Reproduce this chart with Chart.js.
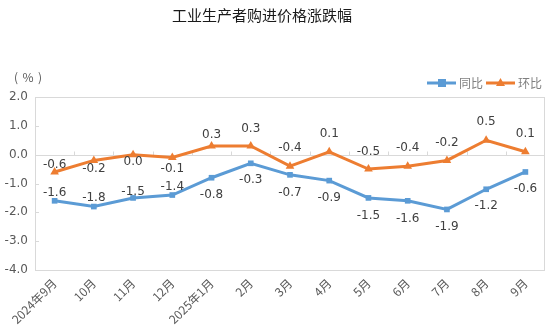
<!DOCTYPE html>
<html><head><meta charset="utf-8">
<script src="https://cdn.jsdelivr.net/npm/chart.js@4"></script>
<style>html,body{margin:0;padding:0;background:#fff}#c{display:block}</style>
</head><body>
<canvas id="c" width="555" height="336"></canvas>
<script>
const months = ['2024年9月','10月','11月','12月','2025年1月','2月','3月','4月','5月','6月','7月','8月','9月'];
const tongbi = [-1.6,-1.8,-1.5,-1.4,-0.8,-0.3,-0.7,-0.9,-1.5,-1.6,-1.9,-1.2,-0.6];
const huanbi = [-0.6,-0.2,0.0,-0.1,0.3,0.3,-0.4,0.1,-0.5,-0.4,-0.2,0.5,0.1];
const seriesNames = ['同比','环比'];

const FONT = "'DejaVu Sans','Noto Sans CJK SC',sans-serif";
const CJK = "'Noto Sans CJK SC','DejaVu Sans',sans-serif";
const BLUE = '#5B9BD5', ORANGE = '#ED7D31';

// label vertical offsets (px from the point), per series
const labelDy = [
  [-8,-9,-6,-8,17,17,18,17,18,18,17,17,17],
  [-7,8,7,11,-11,-17,-18,-18,-17,-18,-18,-18,-18]
];

const decor = {
  id: 'decor',
  beforeDatasetsDraw(chart) {
    const ctx = chart.ctx, a = chart.chartArea, y = chart.scales.y;
    ctx.save();
    ctx.strokeStyle = '#D9D9D9';
    ctx.lineWidth = 1;
    ctx.strokeRect(a.left + 0.5, a.top + 0.5, a.right - a.left - 1, a.bottom - a.top);
    // zero line
    const y0 = Math.round(y.getPixelForValue(0)) + 0.5;
    ctx.beginPath();
    ctx.moveTo(a.left, y0); ctx.lineTo(a.right, y0);
    // y tick marks
    y.ticks.forEach(t => {
      const py = Math.round(y.getPixelForValue(t.value)) + 0.5;
      ctx.moveTo(a.left, py); ctx.lineTo(a.left + 4, py);
    });
    // x tick marks at category borders
    const step = (a.right - a.left) / months.length;
    for (let i = 1; i < months.length; i++) {
      const px = Math.round(a.left + i * step) + 0.5;
      ctx.moveTo(px, y0); ctx.lineTo(px, y0 - 4);
    }
    ctx.stroke();
    ctx.restore();
  },
  afterDraw(chart) {
    const ctx = chart.ctx;
    ctx.save();
    // title
    ctx.fillStyle = '#1a1a1a';
    ctx.font = '15px ' + CJK;
    ctx.textAlign = 'center';
    ctx.textBaseline = 'middle';
    ctx.fillText('工业生产者购进价格涨跌幅', 262, 15);
    // unit
    ctx.fillStyle = '#595959';
    ctx.font = '12px ' + CJK;
    ctx.textAlign = 'center';
    ctx.fillText('(', 16, 77);
    ctx.fillText('%', 28, 77);
    ctx.fillText(')', 40, 77);
    // legend
    const leg = [[427, BLUE, 'rect'], [486, ORANGE, 'triangle']];
    leg.forEach((l, i) => {
      const ly = 83;
      ctx.strokeStyle = l[1];
      ctx.lineWidth = 3;
      ctx.beginPath(); ctx.moveTo(l[0], ly); ctx.lineTo(l[0] + 29, ly); ctx.stroke();
      ctx.fillStyle = l[1];
      if (l[2] === 'rect') ctx.fillRect(l[0] + 11, ly - 4, 8, 8);
      else { ctx.beginPath(); ctx.moveTo(l[0] + 14.5, ly - 5); ctx.lineTo(l[0] + 19, ly + 3); ctx.lineTo(l[0] + 10, ly + 3); ctx.closePath(); ctx.fill(); }
      ctx.fillStyle = '#7f7f7f';
      ctx.font = '12px ' + CJK;
      ctx.textAlign = 'left';
      ctx.fillText(seriesNames[i], l[0] + 32, ly);
    });
    // data labels
    ctx.font = '12px ' + FONT;
    ctx.fillStyle = '#404040';
    ctx.textAlign = 'center';
    chart.data.datasets.forEach((ds, di) => {
      chart.getDatasetMeta(di).data.forEach((pt, i) => {
        ctx.fillText(ds.data[i].toFixed(1), pt.x, pt.y + labelDy[di][i]);
      });
    });
    ctx.restore();
  }
};

new Chart(document.getElementById('c'), {
  type: 'line',
  data: {
    labels: months,
    datasets: [
      { label: seriesNames[0], data: tongbi, borderColor: BLUE, backgroundColor: BLUE, borderWidth: 3,
        pointStyle: 'rect', pointRadius: 4, pointBorderWidth: 0, tension: 0 },
      { label: seriesNames[1], data: huanbi, borderColor: ORANGE, backgroundColor: ORANGE, borderWidth: 3,
        pointStyle: 'triangle', pointRadius: 5, pointBorderWidth: 0, tension: 0 }
    ]
  },
  options: {
    responsive: false,
    animation: false,
    devicePixelRatio: 1,
    layout: { padding: { top: 97, right: 10, left: 0, bottom: 0 } },
    plugins: { legend: { display: false }, title: { display: false }, tooltip: { enabled: false } },
    scales: {
      x: {
        offset: true,
        grid: { display: false, drawTicks: false },
        border: { display: false },
        ticks: { color: '#595959', font: { size: 12, family: CJK }, maxRotation: 45, minRotation: 45, padding: 6, autoSkip: false },
        afterFit(s) { s.height = 66; }
      },
      y: {
        min: -4, max: 2,
        grid: { display: false, drawTicks: false },
        border: { display: false },
        ticks: { stepSize: 1, color: '#595959', font: { size: 12, family: FONT }, padding: 7,
          callback: v => v.toFixed(1) },
        afterFit(s) { s.width = 35; }
      }
    }
  },
  plugins: [decor]
});
</script>
</body></html>
